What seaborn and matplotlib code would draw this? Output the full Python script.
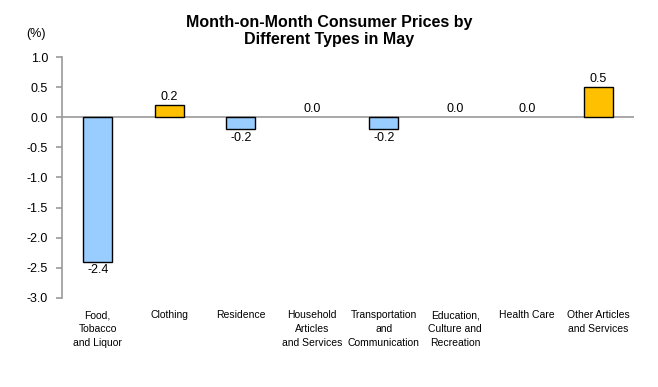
import matplotlib
matplotlib.use("Agg")
import matplotlib.pyplot as plt
import seaborn as sns
import pandas as pd

categories = ["Food,\nTobacco\nand Liquor", "Clothing", "Residence",
              "Household\nArticles\nand Services", "Transportation\nand\nCommunication",
              "Education,\nCulture and\nRecreation", "Health Care",
              "Other Articles\nand Services"]
values = [-2.4, 0.2, -0.2, 0.0, -0.2, 0.0, 0.0, 0.5]
yticks = [1.0, 0.5, 0.0, -0.5, -1.0, -1.5, -2.0, -2.5, -3.0]

sns.set_style("white")
plt.rcParams["font.family"] = ["Liberation Sans", "DejaVu Sans"]
plt.rcParams["text.color"] = "black"
plt.rcParams["xtick.labelcolor"] = "black"
plt.rcParams["ytick.labelcolor"] = "black"

df = pd.DataFrame({"cat": categories, "val": values})
colors = ["#FFC000" if v > 0 else "#99CCFF" for v in values]

fig = plt.figure(figsize=(6.58, 3.87), dpi=100)
ax = fig.add_axes([0.0942, 0.2300, 0.8693, 0.6227])

sns.barplot(data=df, x="cat", y="val", hue="cat", palette=colors, legend=False,
            width=0.41, edgecolor="black", linewidth=1.0, saturation=1, ax=ax)

# zero-height bars are not drawn in the original
for patch, v in zip(ax.patches, values):
    if v == 0:
        patch.set_visible(False)

ax.set_ylim(-3.0, 1.0)
ax.set_xlim(-0.5, len(categories) - 0.5)
ax.set_yticks(yticks)
ax.set_yticklabels([f"{t:.1f}" for t in yticks], fontsize=9)
ax.axhline(0, color="#999999", linewidth=1.2, zorder=0)

for s in ["top", "right", "bottom"]:
    ax.spines[s].set_visible(False)
ax.spines["left"].set_color("#999999")
ax.spines["left"].set_linewidth(1.2)
ax.tick_params(axis="y", direction="out", length=4, color="#999999", width=1.2, pad=6, left=True)
ax.tick_params(axis="x", length=0, pad=9, labelsize=7.5)
for lbl in ax.get_xticklabels():
    lbl.set_linespacing(1.45)
ax.set_xlabel("")
ax.set_ylabel("")

for i, v in enumerate(values):
    if v < 0:
        ax.text(i, v - 0.04, f"{v:.1f}", ha="center", va="top", fontsize=9)
    else:
        ax.text(i, v + 0.04, f"{v:.1f}", ha="center", va="bottom", fontsize=9)

fig.text(0.5, 0.92, "Month-on-Month Consumer Prices by\nDifferent Types in May",
         ha="center", va="center", fontsize=11.5, fontweight="bold", linespacing=1.15)
fig.text(0.055, 0.912, "(%)", ha="center", va="center", fontsize=9)

fig.savefig("out.png", dpi=100)
